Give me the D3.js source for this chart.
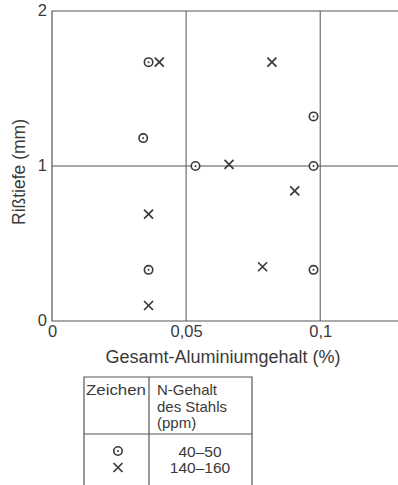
<!DOCTYPE html>
<html>
<head>
<meta charset="utf-8">
<script src="https://cdn.jsdelivr.net/npm/d3@7"></script>
<style>
body { margin: 0; background: #fff; }
svg { display: block; font-family: "Liberation Sans", Arial, sans-serif; }
</style>
</head>
<body>
<svg id="chart" width="398" height="485"></svg>
<script>
// data
var circleX = [0.036, 0.034, 0.0535, 0.0975, 0.0975, 0.036, 0.0975];
var circleY = [1.67, 1.18, 1.0, 1.32, 1.0, 0.33, 0.33];
var crossX = [0.040, 0.082, 0.066, 0.036, 0.0905, 0.0785, 0.036];
var crossY = [1.67, 1.67, 1.01, 0.69, 0.84, 0.35, 0.10];
var xTicks = [0, 0.05, 0.1];
var yTicks = [0, 1, 2];
var legendRows = ["40–50", "140–160"];

var ink = "#3a3a3a";
var svg = d3.select("#chart");

var x = d3.scaleLinear().domain([0, 0.129]).range([52, 398]);
var y = d3.scaleLinear().domain([0, 2]).range([321, 11]);

// frame lines: top, bottom, left
svg.append("path")
    .attr("d", "M 398 " + y(2) + " H " + x(0) + " V " + y(0) + " H 398")
    .attr("fill", "none")
    .attr("stroke", "#555")
    .attr("stroke-width", 1.2);

// grid
svg.selectAll(".vgrid")
    .data(xTicks.slice(1))
    .enter().append("line")
    .attr("x1", d => x(d)).attr("x2", d => x(d))
    .attr("y1", y(2)).attr("y2", y(0))
    .attr("stroke", "#555").attr("stroke-width", 1);

svg.selectAll(".hgrid")
    .data([1])
    .enter().append("line")
    .attr("x1", x(0)).attr("x2", 398)
    .attr("y1", d => y(d)).attr("y2", d => y(d))
    .attr("stroke", "#555").attr("stroke-width", 1);

// axes (labels only)
var xAxis = svg.append("g")
    .attr("transform", "translate(0," + y(0) + ")")
    .call(d3.axisBottom(x).tickValues(xTicks).tickSize(0)
        .tickFormat(d => d === 0 ? "0" : String(d).replace(".", ",")));
xAxis.select(".domain").remove();
xAxis.selectAll("text")
    .attr("dy", "0.72em").attr("y", 4)
    .attr("font-size", 16.5).attr("fill", ink)
    .attr("font-family", "Liberation Sans, Arial, sans-serif");

var yAxis = svg.append("g")
    .attr("transform", "translate(" + x(0) + ",0)")
    .call(d3.axisLeft(y).tickValues(yTicks).tickSize(0).tickFormat(d3.format("d")));
yAxis.select(".domain").remove();
yAxis.selectAll("text")
    .attr("x", -5).attr("dy", "0.3em")
    .attr("font-size", 16.5).attr("fill", ink)
    .attr("font-family", "Liberation Sans, Arial, sans-serif");

svg.append("text")
    .attr("transform", "translate(25,172) rotate(-90)")
    .attr("text-anchor", "middle")
    .attr("font-size", 17.5).attr("fill", ink)
    .text("Rißtiefe (mm)");

svg.append("text")
    .attr("x", 223).attr("y", 363)
    .attr("text-anchor", "middle")
    .attr("font-size", 18).attr("fill", ink)
    .text("Gesamt-Aluminiumgehalt (%)");

// markers
function drawCircle(g) {
    g.append("circle").attr("r", 4.2).attr("fill", "#fff")
        .attr("stroke", ink).attr("stroke-width", 1.6);
    g.append("circle").attr("r", 1).attr("fill", ink);
}
function drawCross(g) {
    g.append("path").attr("d", "M -4.5 -4.5 L 4.5 4.5 M -4.5 4.5 L 4.5 -4.5")
        .attr("stroke", ink).attr("stroke-width", 1.7);
}

svg.selectAll(".circ")
    .data(d3.zip(circleX, circleY))
    .enter().append("g")
    .attr("transform", d => "translate(" + x(d[0]) + "," + y(d[1]) + ")")
    .each(function () { drawCircle(d3.select(this)); });

svg.selectAll(".cross")
    .data(d3.zip(crossX, crossY))
    .enter().append("g")
    .attr("transform", d => "translate(" + x(d[0]) + "," + y(d[1]) + ")")
    .each(function () { drawCross(d3.select(this)); });

// legend table
var table = svg.append("g");
table.append("path")
    .attr("d", "M 84 486 V 377 H 252 V 486 M 149 377 V 486 M 84 434 H 252")
    .attr("fill", "none").attr("stroke", "#555").attr("stroke-width", 1.2);

table.append("text").attr("x", 86).attr("y", 395)
    .attr("font-size", 15.5).attr("fill", ink)
    .attr("textLength", 60).attr("lengthAdjust", "spacingAndGlyphs")
    .text("Zeichen");
["N-Gehalt", "des Stahls", "(ppm)"].forEach(function (t, i) {
    table.append("text").attr("x", 157).attr("y", 395 + i * 16.5)
        .attr("font-size", 15).attr("fill", ink).text(t);
});

var rowY = d3.scalePoint().domain(legendRows).range([451, 467.5]);
legendRows.forEach(function (t, i) {
    table.append("text").attr("x", 200).attr("y", rowY(t) + 5.5)
        .attr("text-anchor", "middle")
        .attr("font-size", 15.5).attr("fill", ink).text(t);
    var g = table.append("g").attr("transform", "translate(118," + rowY(t) + ")");
    if (i === 0) drawCircle(g); else drawCross(g);
});
</script>
</body>
</html>
